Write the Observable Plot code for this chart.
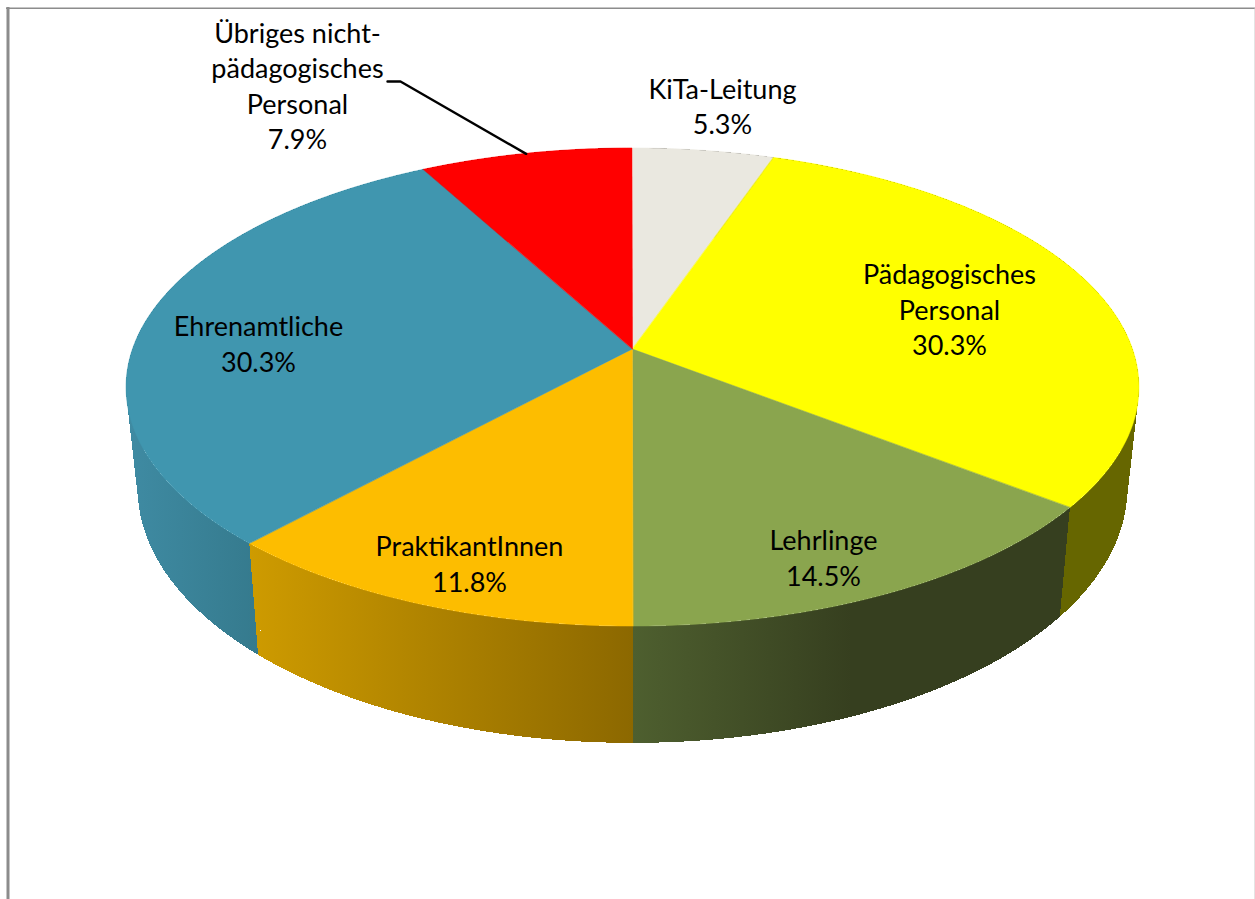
<!DOCTYPE html>
<html lang="de">
<head>
<meta charset="utf-8">
<title>Personal</title>
<script src="https://cdn.jsdelivr.net/npm/d3@7"></script>
<script src="https://cdn.jsdelivr.net/npm/@observablehq/plot@0.6"></script>
<style>html,body{margin:0;padding:0;background:#fff}svg{display:block}</style>
</head>
<body>
<div id="chart"></div>
<script>
// Data (clockwise from the top of the pie)
const categories = ["KiTa-Leitung", "Pädagogisches\nPersonal", "Lehrlinge", "PraktikantInnen", "Ehrenamtliche", "Übriges nicht-\npädagogisches\nPersonal"];
const shares = [5.26, 30.26, 14.47, 11.84, 30.26, 7.89];

// Styles
const topColors = ["#EAE8E0", "#FFFF00", "#8AA54E", "#FDBD00", "#4096AF", "#FF0000"];
const sideStops = [
  [[0, "#5E5C58"], [1, "#5E5C58"]],
  [[0, "#666600"], [1, "#666600"]],
  [[0, "#4E5F2F"], [0.5, "#363F1F"], [1, "#363F1F"]],
  [[0, "#CE9B00"], [1, "#8C6800"]],
  [[0, "#3F8BA3"], [0.44, "#357A8D"], [1, "#357A8D"]],
  [[0, "#990000"], [1, "#990000"]]
];

// Layout of the perspective pie
const W = 1255, H = 899;
const cx = 632.5, k = 0.159;
const topDisc = {y0: 349, a: 233, b: 500};
const bottomDisc = {y0: 448, a: 248, b: 488.5};
const labelX = [722, 949, 823, 469, 258, 297];
const labelY = [104.5, 308, 556, 562, 342, 84];
const leaderStart = [[387, 81], [400, 81]];

function project(disc, pct, r = 1) {
  const t = pct / 100 * 2 * Math.PI;
  const u = Math.sin(t) * r, v = -Math.cos(t) * r, w = 1 - k * v;
  return [cx + disc.b * u / w, disc.y0 + disc.a * v / w];
}

let acc = 0;
const slices = shares.map((s, i) => {
  const start = acc; acc += s;
  const n = Math.max(2, Math.ceil(s * 5));
  const pcts = d3.range(n + 1).map(j => start + s * j / n);
  // one quad per step, so the band fills out to the silhouette of the two discs
  const strips = d3.range(n).flatMap(j => [{p: pcts[j], z: j}, {p: pcts[j + 1], z: j}]);
  return {i, mid: start + s / 2, pcts, strips};
});

const defs = () => {
  const d = d3.create("svg:defs");
  sideStops.forEach((stops, i) => {
    const xs = slices[i].pcts.flatMap(p => [project(topDisc, p)[0], project(bottomDisc, p)[0]]);
    const g = d.append("linearGradient").attr("id", "side" + i)
      .attr("gradientUnits", "userSpaceOnUse")
      .attr("x1", d3.min(xs)).attr("x2", d3.max(xs)).attr("y1", 0).attr("y2", 0);
    stops.forEach(([o, c]) => g.append("stop").attr("offset", o).attr("stop-color", c));
  });
  return d.node();
};

const sideMarks = slices.map(sl => Plot.area(sl.strips, {
  x1: d => project(topDisc, d.p)[0],
  y1: d => project(topDisc, d.p)[1],
  x2: d => project(bottomDisc, d.p)[0],
  y2: d => project(bottomDisc, d.p)[1],
  z: "z",
  fill: `url(#side${sl.i})`,
  shapeRendering: "crispEdges",
  curve: "linear"
}));

const topMarks = slices.map(sl => Plot.area(sl.pcts, {
  x1: () => cx,
  y1: () => topDisc.y0,
  x2: p => project(topDisc, p)[0],
  y2: p => project(topDisc, p)[1],
  fill: topColors[sl.i],
  stroke: topColors[sl.i],
  strokeWidth: 0.5,
  curve: "linear"
}));

const labelRows = categories.map((c, i) => ({text: `${c}\n${shares[i].toFixed(1)}%`, x: labelX[i], y: labelY[i]}));
const leader = [...leaderStart, project(topDisc, slices[5].mid)];

const chart = Plot.plot({
  width: W, height: H,
  margin: 0,
  x: {domain: [0, W], range: [0, W], axis: null},
  y: {domain: [0, H], range: [0, H], axis: null},
  style: {background: "#fff"},
  marks: [
    defs,
    Plot.ruleX([7.5], {stroke: "#8C8C8C", strokeWidth: 3, y1: 7, y2: H}),
    Plot.ruleY([7.75], {stroke: "#8C8C8C", strokeWidth: 1.5, x1: 6, x2: W}),
    Plot.ruleX([1254.5], {stroke: "#C8C8C8", strokeWidth: 1, y1: 7, y2: H}),
    ...sideMarks,
    ...topMarks,
    Plot.line(leader, {x: d => d[0], y: d => d[1], stroke: "#000", strokeWidth: 2.4, curve: "linear"}),
    Plot.text(labelRows, {
      x: "x", y: "y", text: "text",
      fontFamily: "Lato", fontSize: 27, lineHeight: 1.31,
      fill: "#000", textAnchor: "middle"
    })
  ]
});
document.getElementById("chart").appendChild(chart);
</script>
</body>
</html>
